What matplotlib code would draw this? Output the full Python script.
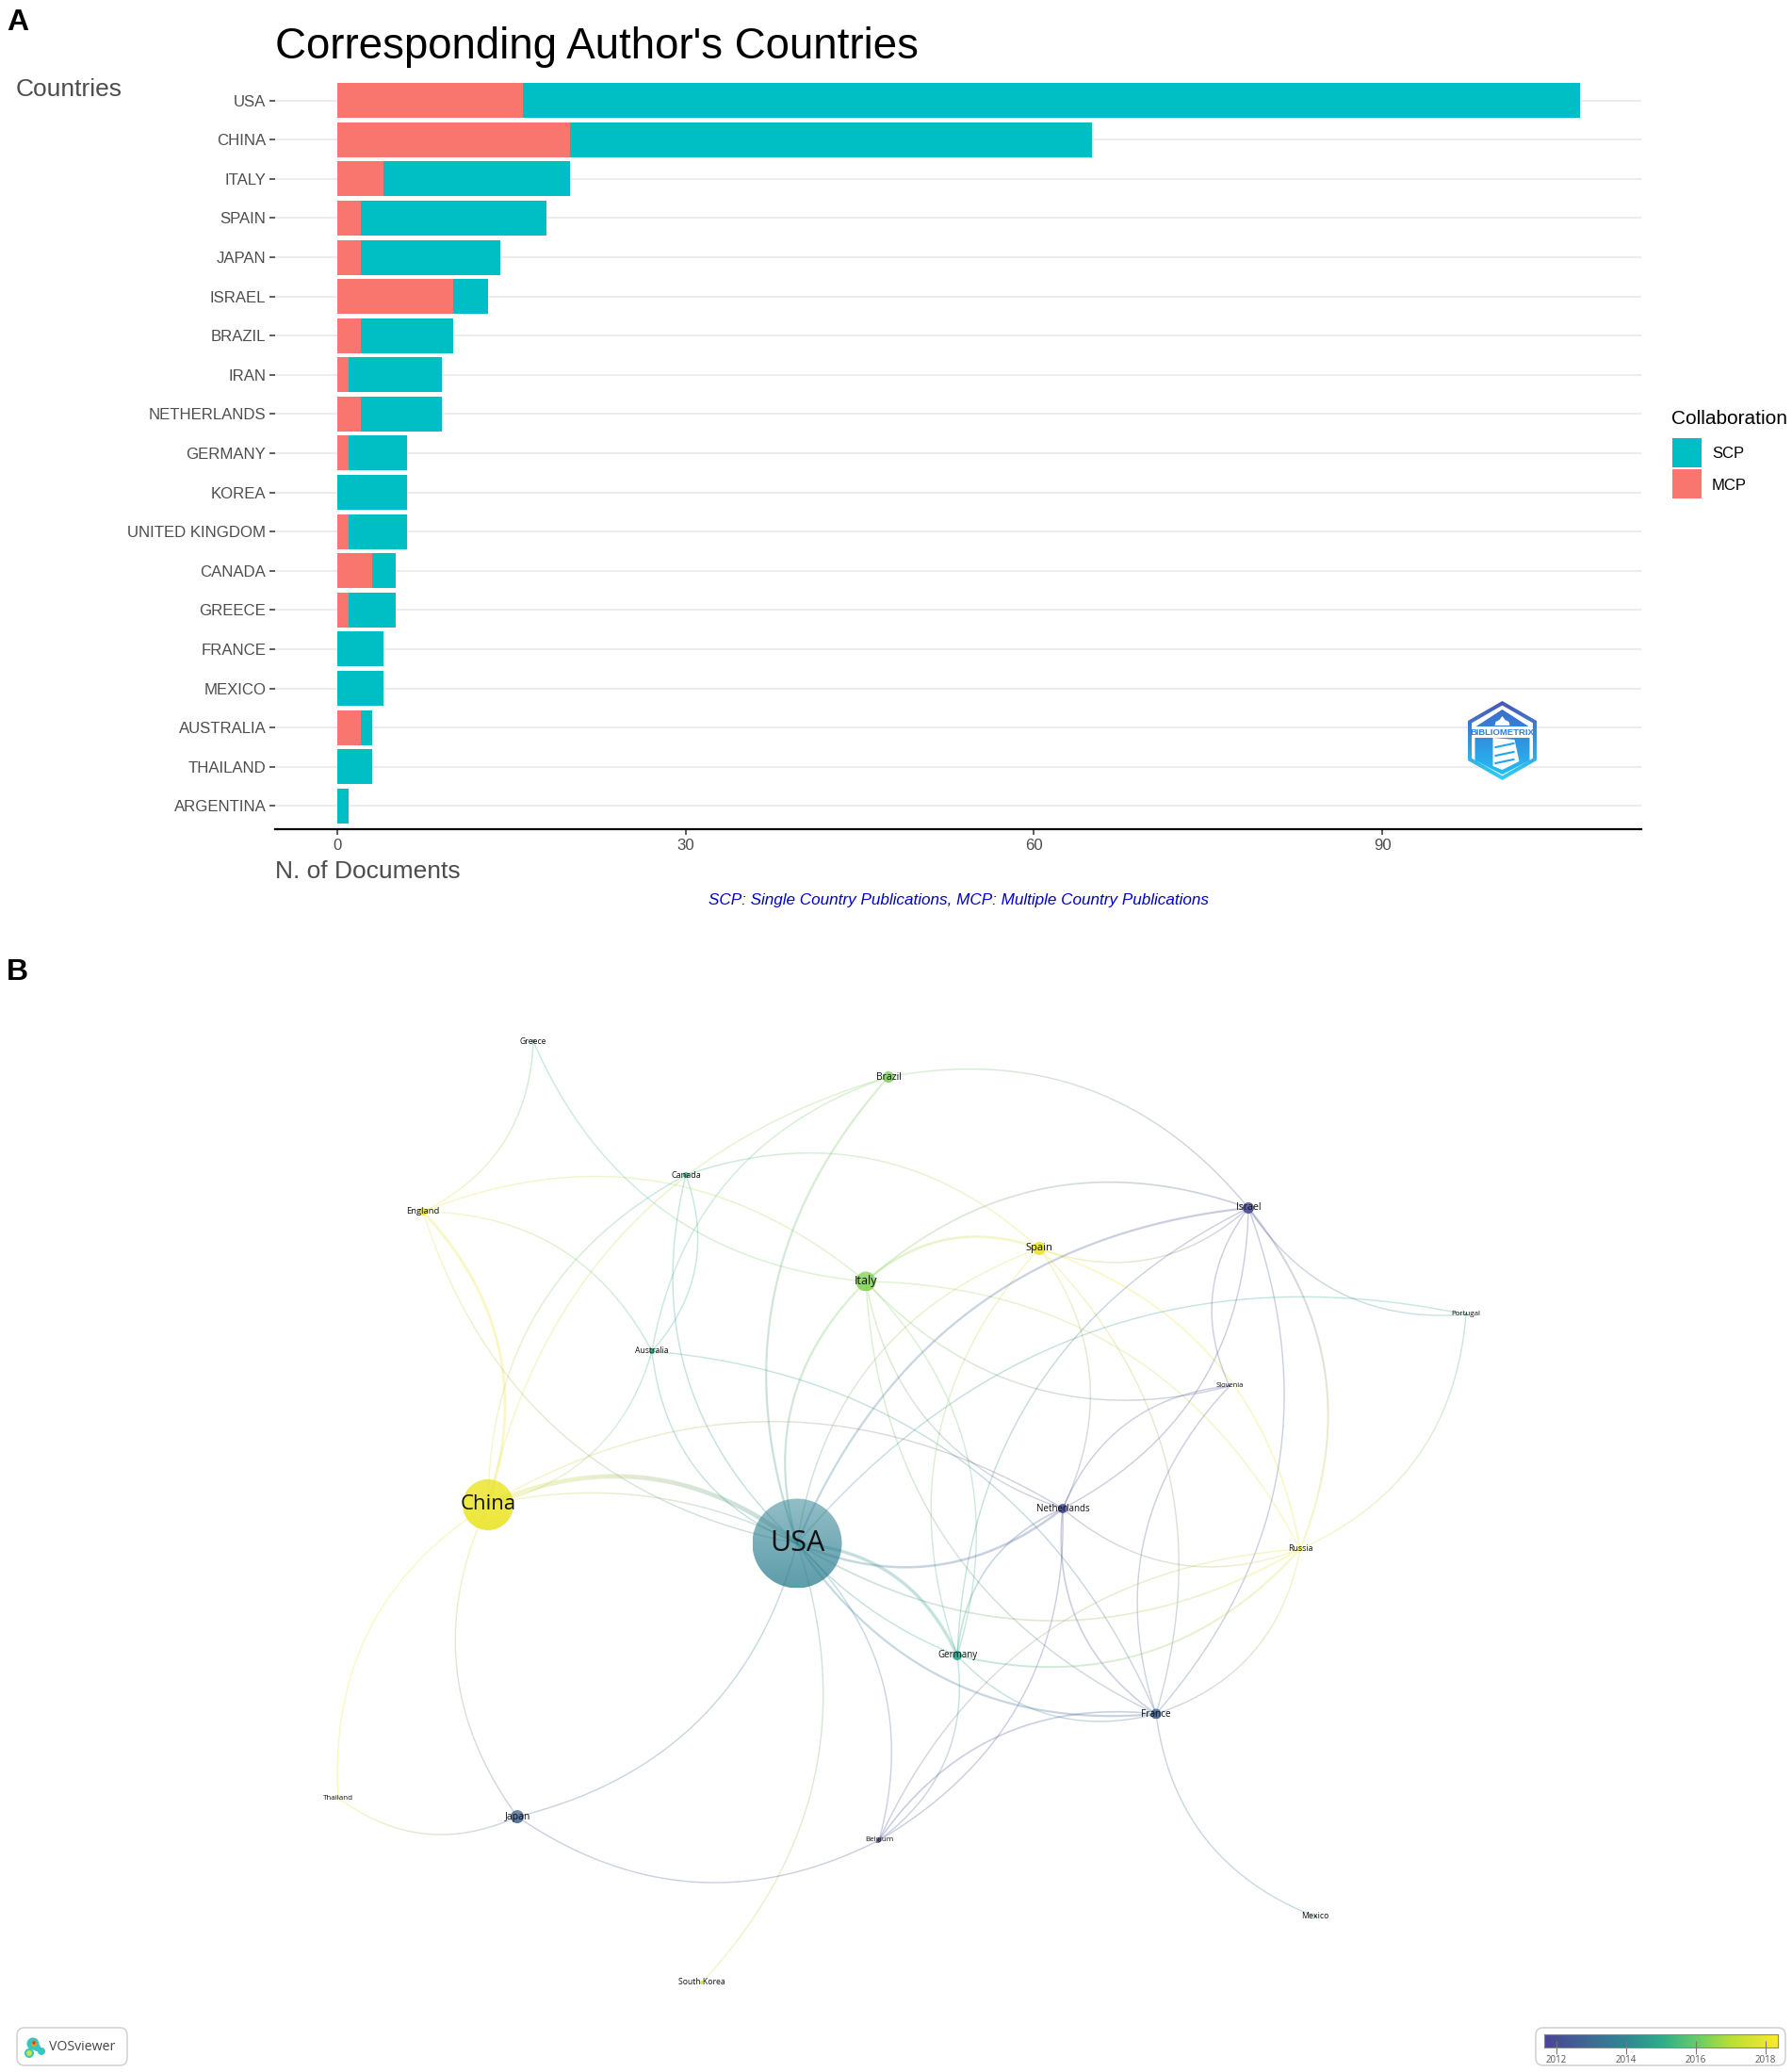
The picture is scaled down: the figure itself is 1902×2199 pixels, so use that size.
import numpy as np
import matplotlib
matplotlib.use("Agg")
import matplotlib.pyplot as plt
from matplotlib.collections import LineCollection
from matplotlib.colors import LinearSegmentedColormap, to_rgb
from matplotlib.patches import Circle, FancyBboxPatch, Polygon, Rectangle

W, H = 1902, 2199
SANS = "Liberation Sans"
NET = "Open Sans"

# panel A data
countries = ["USA", "CHINA", "ITALY", "SPAIN", "JAPAN", "ISRAEL", "BRAZIL", "IRAN", "NETHERLANDS",
             "GERMANY", "KOREA", "UNITED KINGDOM", "CANADA", "GREECE", "FRANCE", "MEXICO",
             "AUSTRALIA", "THAILAND", "ARGENTINA"]
mcp = [16, 20, 4, 2, 2, 10, 2, 1, 2, 1, 0, 1, 3, 1, 0, 0, 2, 0, 0]
scp = [91, 45, 16, 16, 12, 3, 8, 8, 7, 5, 6, 5, 2, 4, 4, 4, 1, 3, 1]

# panel B data, positions are the layout
node_names = ["Greece", "Brazil", "England", "Canada", "Israel", "Spain", "Italy", "Portugal",
              "Australia", "Slovenia", "China", "Netherlands", "USA", "Russia", "Germany", "France",
              "Thailand", "Japan", "Belgium", "Mexico", "South Korea"]
node_x = [566, 943, 449, 728, 1325, 1103, 919, 1556, 692, 1305, 518, 1128, 846, 1380, 1016, 1227, 359, 549, 933, 1396, 745]
node_y = [1105, 1143, 1286, 1247, 1282, 1325, 1360, 1395, 1434, 1471, 1597, 1601, 1638, 1644, 1757, 1819, 1908, 1928, 1953, 2034, 2104]
node_r = [2, 6, 4, 3, 6, 7, 10.5, 1.5, 3, 1, 27, 5, 47.5, 2.5, 5, 5.5, 1.5, 7, 2.5, 1.5, 2]
node_year = [2015.2, 2016.3, 2018, 2015, 2012, 2018, 2016.4, 2015, 2015, 2012, 2018, 2012, 2013.9, 2018, 2014.8,
             2012.7, 2018, 2012.7, 2012, 2014, 2017.5]
node_light = [0.25, 0.25, 0.2, 0.25, 0.25, 0.2, 0.25, 0.25, 0.25, 0.25, 0.2, 0.25, 0.5, 0.2, 0.25, 0.25, 0.2, 0.3, 0.25, 0.25, 0.25]
node_fs = [6.2, 7.5, 6.8, 6.6, 7.5, 8, 9, 5.7, 6.2, 5.5, 16, 7, 22, 6.3, 7, 7.2, 5.8, 7.5, 5.8, 6.3, 6.2]

# each edge bulges to the left of its direction of travel
edges = [("Greece", "England", 1), ("Italy", "Greece", 1), ("England", "Italy", 1), ("England", "Australia", 1),
         ("England", "China", 2), ("USA", "England", 1), ("China", "Brazil", 1), ("Australia", "Brazil", 1),
         ("Canada", "Australia", 1), ("USA", "Canada", 1), ("China", "Canada", 1), ("Australia", "China", 1),
         ("Canada", "Spain", 1), ("USA", "Brazil", 1.6), ("Brazil", "Israel", 1), ("USA", "Italy", 1.6),
         ("Italy", "Spain", 1.8), ("Italy", "Israel", 1.2), ("Slovenia", "Italy", 1), ("Italy", "Russia", 1),
         ("Italy", "Germany", 1), ("France", "Italy", 1), ("Germany", "Spain", 1), ("Netherlands", "Italy", 1),
         ("USA", "Spain", 1), ("Israel", "Spain", 1), ("Spain", "Russia", 1.2), ("Spain", "Netherlands", 1),
         ("Spain", "France", 1), ("USA", "Israel", 1.6), ("Germany", "Israel", 1), ("Israel", "Netherlands", 1),
         ("Slovenia", "Israel", 1), ("Israel", "France", 1), ("Israel", "Russia", 1.4), ("Portugal", "Israel", 1),
         ("USA", "Portugal", 1), ("Portugal", "Russia", 1), ("Netherlands", "Slovenia", 1), ("France", "Slovenia", 1),
         ("Russia", "Netherlands", 1), ("Netherlands", "USA", 1.8), ("Germany", "Netherlands", 1.2),
         ("France", "Netherlands", 1.2), ("Netherlands", "Belgium", 1), ("Australia", "France", 1),
         ("China", "Netherlands", 1), ("USA", "Germany", 2.4), ("USA", "Australia", 1), ("Russia", "USA", 1.2),
         ("France", "USA", 1.6), ("France", "Germany", 1), ("Belgium", "France", 1.2), ("USA", "Belgium", 1),
         ("USA", "Japan", 1), ("USA", "South Korea", 1), ("Japan", "China", 1), ("Belgium", "Japan", 1),
         ("Japan", "Thailand", 1), ("Thailand", "China", 1), ("China", "USA", 3.4), ("Russia", "Germany", 1.4),
         ("Belgium", "Russia", 1), ("Russia", "France", 1), ("Mexico", "France", 1), ("Germany", "Belgium", 1)]
# these two curve less than the others
flat_edges = [("China", "USA", 1, 0.09), ("Germany", "USA", 1, 0.06)]

cbar_years = [2012, 2014, 2016, 2018]
year_lo, year_hi = 2011.65, 2018.35
cmap = LinearSegmentedColormap.from_list("vos", [
    (0.0, "#423a90"), (0.2, "#33638d"), (0.35, "#26808e"), (0.5, "#22a884"),
    (0.65, "#5ec962"), (0.8, "#b5de2b"), (1.0, "#fde725")])


def year_color(y):
    return np.array(cmap((y - year_lo) / (year_hi - year_lo))[:3])


def px_axes(x0, y0, x1, y1):
    return fig.add_axes([x0 / W, 1 - y1 / H, (x1 - x0) / W, (y1 - y0) / H])


def gradient(ax, extent, top, bottom, clip):
    img = np.clip(np.linspace(top, bottom, 64), 0, 1)[:, None, :]
    im = ax.imshow(img, extent=extent, aspect="auto", interpolation="bilinear", zorder=clip.get_zorder())
    ax.add_patch(clip)
    clip.set_visible(False)
    im.set_clip_path(clip)


def draw_edge(ax, a, b, w, bend=0.148):
    ia, ib = node_names.index(a), node_names.index(b)
    pa = np.array([node_x[ia], node_y[ia]], float)
    pb = np.array([node_x[ib], node_y[ib]], float)
    d = pb - pa
    ctrl = (pa + pb) / 2 + 2 * bend * np.array([d[1], -d[0]])
    t = np.linspace(0, 1, 60)[:, None]
    pts = (1 - t) ** 2 * pa + 2 * t * (1 - t) * ctrl + t ** 2 * pb
    segs = np.stack([pts[:-1], pts[1:]], axis=1)
    tm = (t[:-1, 0] + t[1:, 0]) / 2
    ca, cb = year_color(node_year[ia]), year_color(node_year[ib])
    # colour runs straight between the two end colours, so long links go grey in the middle
    cols = [(*(ca * (1 - m) + cb * m), 0.27) for m in tm]
    ax.add_collection(LineCollection(segs, colors=cols, linewidths=w * 1.0, capstyle="butt", zorder=3))


fig = plt.figure(figsize=(W / 100, H / 100), dpi=100, facecolor="white")

# panel A
ax = px_axes(292, 81.7, 1742, 880)
y = np.arange(len(countries))
ax.barh(y, mcp, height=0.89, color="#F8766D", zorder=2)
ax.barh(y, scp, left=mcp, height=0.89, color="#00BFC4", zorder=2)
ax.set_xlim(-5.36, 112.3)
ax.set_ylim(len(countries) - 1 + 0.594, -0.6)
ax.set_yticks(y, countries, fontfamily=SANS, fontsize=12.1, color="#4d4d4d")
ax.set_xticks([0, 30, 60, 90])
ax.tick_params(axis="x", labelsize=12.1, labelcolor="#4d4d4d", length=4, width=1.1, color="#333333", pad=3)
ax.tick_params(axis="y", length=4, width=1.1, color="#333333", pad=3)
for lab in ax.get_xticklabels():
    lab.set_fontfamily(SANS)
ax.grid(axis="y", color="#ebebeb", lw=1.3, zorder=0)
ax.set_axisbelow(True)
for side in ["top", "left", "right"]:
    ax.spines[side].set_visible(False)
ax.spines["bottom"].set_linewidth(1.6)
ax.spines["bottom"].set_color("black")

# overlay in picture pixels
ov = px_axes(0, 0, W, H)
ov.patch.set_alpha(0)
ov.axis("off")

ov.text(292, 62, "Corresponding Author's Countries", fontfamily=SANS, fontsize=32.9, color="black", va="baseline")
ov.text(17, 102, "Countries", fontfamily=SANS, fontsize=19, color="#4d4d4d", va="baseline")
ov.text(292, 932, "N. of Documents", fontfamily=SANS, fontsize=19, color="#4d4d4d", va="baseline")
ov.text(1017.5, 955.5, "SCP: Single Country Publications, MCP: Multiple Country Publications", fontfamily=SANS,
        fontsize=12.3, style="italic", color="#0000cd", ha="center", va="center")
ov.text(7, 32, "A", fontfamily=SANS, fontsize=23, fontweight="bold", va="baseline")
ov.text(7, 1040, "B", fontfamily=SANS, fontsize=23, fontweight="bold", va="baseline")

# legend
ov.text(1774, 445, "Collaboration", fontfamily=SANS, fontsize=15, color="black", va="center")
ov.add_patch(Rectangle((1775, 464.5), 31, 31, color="#00BFC4", lw=0))
ov.add_patch(Rectangle((1775, 498), 31, 31, color="#F8766D", lw=0))
ov.text(1817, 481.5, "SCP", fontfamily=SANS, fontsize=12, color="black", va="center")
ov.text(1817, 515, "MCP", fontfamily=SANS, fontsize=12, color="black", va="center")

# bibliometrix logo
cx, cy = 1594.5, 786
c_top, c_bot = np.array(to_rgb("#4a57b5")), np.array(to_rgb("#2cd0f8"))
f_top, f_bot = np.array(to_rgb("#3f62c8")), np.array(to_rgb("#22c4f8"))


def hexagon(s):
    return [(cx, cy - 42 * s), (cx + 36.5 * s, cy - 21 * s), (cx + 36.5 * s, cy + 21 * s),
            (cx, cy + 42 * s), (cx - 36.5 * s, cy + 21 * s), (cx - 36.5 * s, cy - 21 * s)]


gradient(ov, (cx - 37, cx + 37, cy + 42, cy - 42), c_top, c_bot, Polygon(hexagon(1), zorder=4))
ov.add_patch(Polygon(hexagon(0.89), color="white", lw=0, zorder=4.1))
gradient(ov, (cx - 37, cx + 37, cy + 42, cy - 42), f_top, f_bot,
         Polygon([(cx, cy - 33), (cx + 28, cy - 15), (cx - 28, cy - 15)], zorder=4.2))
gradient(ov, (cx - 37, cx + 37, cy + 42, cy - 42), f_top, f_bot,
         Polygon([(cx - 29, cy - 3), (cx + 29, cy - 3), (cx + 29, cy + 21), (cx, cy + 36), (cx - 29, cy + 21)], zorder=4.2))
ov.add_patch(Polygon([(cx - 8, cy - 16), (cx - 7, cy - 20), (cx - 3, cy - 22), (cx, cy - 26), (cx + 3, cy - 22), (cx + 7, cy - 20),
                      (cx + 8, cy - 16)], color="white", lw=0, zorder=4.3))
ov.add_patch(Polygon([(cx - 10, cy - 3), (cx + 13, cy - 1), (cx + 18, cy + 22), (cx, cy + 31), (cx - 10, cy + 27)],
                     color="white", lw=0, zorder=4.3))
for dy in [7, 16, 24]:
    ov.plot([cx - 7, cx + 12], [cy + dy, cy + dy - 4], color="#22a5ee", lw=1.5, zorder=4.4)
ov.text(cx, cy - 9, "BIBLIOMETRIX", fontfamily=SANS, fontsize=6.8, fontweight="bold", color="#2f7fd6",
        ha="center", va="center", zorder=4.5)

# panel B nodes then edges
for nx, ny, nr, ny_year, k in zip(node_x, node_y, node_r, node_year, node_light):
    base = year_color(ny_year)
    top = base + k * (1 - base)
    bot = base + k * 0.5 * (1 - base)
    gradient(ov, (nx - nr, nx + nr, ny + nr, ny - nr), top, bot, Circle((nx, ny), nr, zorder=2))

for a, b, w in edges:
    draw_edge(ov, a, b, w)
for a, b, w, bend in flat_edges:
    draw_edge(ov, a, b, w, bend=bend)

for name, nx, ny, fs in zip(node_names, node_x, node_y, node_fs):
    ov.text(nx, ny, name, fontfamily=NET, fontsize=fs, color="#111111", ha="center", va="center", zorder=5)

# vosviewer badge
ov.add_patch(FancyBboxPatch((22, 2156), 109, 32, boxstyle="round,pad=4,rounding_size=8", fc="white", ec="#d0d0d0", lw=1.1))
for bx, by, br in [(35, 2169, 6.5), (31, 2179, 5), (39, 2173, 4), (44, 2177, 4)]:
    ov.add_patch(Circle((bx, by), br, color="#35c6c0", lw=0, zorder=3))
ov.add_patch(Circle((31, 2179), 3, color="#c7e24a", lw=0, zorder=3.1))
ov.add_patch(Circle((36, 2169), 3, color="#e8a020", lw=0, zorder=3.1))
ov.add_patch(Circle((36, 2168), 1.8, color="#d8401c", lw=0, zorder=3.2))
ov.text(52, 2173, "VOSviewer", fontfamily=NET, fontsize=10.2, color="#444444", va="center")

# colour scale
ov.add_patch(FancyBboxPatch((1634, 2156), 257, 32, boxstyle="round,pad=4,rounding_size=8", fc="white", ec="#d0d0d0", lw=1.1))
cax = px_axes(1639, 2159, 1887, 2173)
cax.imshow(np.linspace(0, 1, 256)[None, :], cmap=cmap, aspect="auto", extent=(year_lo, year_hi, 0, 1), alpha=0.95)
cax.set_xlim(year_lo, year_hi)
cax.set_yticks([])
cax.set_xticks(cbar_years)
cax.tick_params(axis="x", direction="inout", length=10, width=0.8, color="#777777", labelsize=7, labelcolor="#555555", pad=1)
for lab in cax.get_xticklabels():
    lab.set_fontfamily(NET)
for sp in cax.spines.values():
    sp.set_color("#888888")
    sp.set_linewidth(0.8)

ov.set_xlim(0, W)
ov.set_ylim(H, 0)
fig.savefig("out.png", dpi=100)
